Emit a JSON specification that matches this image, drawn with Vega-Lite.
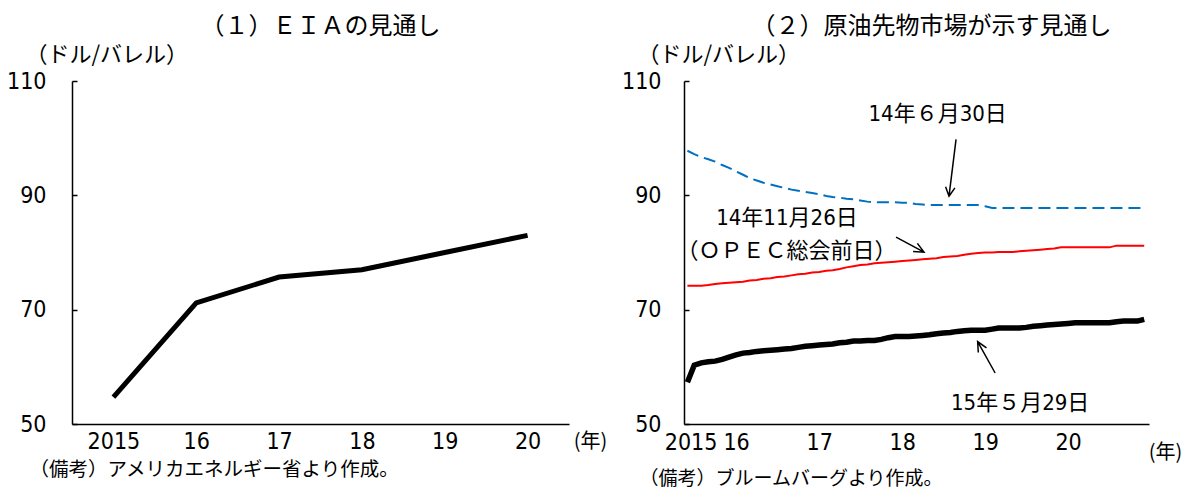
{
  "$schema": "https://vega.github.io/schema/vega-lite/v6.json",
  "background": "white",
  "padding": {"left": 6, "top": 15, "right": 0, "bottom": 0},
  "config": {
    "view": {"stroke": null},
    "font": "Noto Sans CJK JP",
    "axis": {"domainColor": "black", "domainWidth": 1.5, "labelColor": "black", "titleColor": "black", "tickColor": "black", "tickWidth": 1.5, "grid": false},
    "title": {"color": "black"},
    "concat": {"spacing": 14}
  },
  "datasets": {
    "futures": [
      {"date": "2015-06", "jun14": 97.8, "nov14": 74.2, "may15": 57.3},
      {"date": "2015-07", "jun14": 97.2, "nov14": 74.2, "may15": 60.3},
      {"date": "2015-08", "jun14": 96.7, "nov14": 74.2, "may15": 60.7},
      {"date": "2015-09", "jun14": 96.3, "nov14": 74.3, "may15": 60.9},
      {"date": "2015-10", "jun14": 95.9, "nov14": 74.5, "may15": 61.0},
      {"date": "2015-11", "jun14": 95.3, "nov14": 74.6, "may15": 61.3},
      {"date": "2015-12", "jun14": 94.8, "nov14": 74.7, "may15": 61.7},
      {"date": "2016-01", "jun14": 94.2, "nov14": 74.8, "may15": 62.1},
      {"date": "2016-02", "jun14": 93.6, "nov14": 74.9, "may15": 62.4},
      {"date": "2016-03", "jun14": 93.0, "nov14": 75.1, "may15": 62.5},
      {"date": "2016-04", "jun14": 92.6, "nov14": 75.2, "may15": 62.7},
      {"date": "2016-05", "jun14": 92.2, "nov14": 75.4, "may15": 62.8},
      {"date": "2016-06", "jun14": 91.9, "nov14": 75.5, "may15": 62.9},
      {"date": "2016-07", "jun14": 91.6, "nov14": 75.7, "may15": 63.0},
      {"date": "2016-08", "jun14": 91.3, "nov14": 75.8, "may15": 63.1},
      {"date": "2016-09", "jun14": 91.0, "nov14": 76.0, "may15": 63.2},
      {"date": "2016-10", "jun14": 90.8, "nov14": 76.2, "may15": 63.4},
      {"date": "2016-11", "jun14": 90.6, "nov14": 76.3, "may15": 63.6},
      {"date": "2016-12", "jun14": 90.4, "nov14": 76.5, "may15": 63.7},
      {"date": "2017-01", "jun14": 90.2, "nov14": 76.6, "may15": 63.8},
      {"date": "2017-02", "jun14": 89.9, "nov14": 76.8, "may15": 63.9},
      {"date": "2017-03", "jun14": 89.7, "nov14": 76.9, "may15": 64.0},
      {"date": "2017-04", "jun14": 89.6, "nov14": 77.1, "may15": 64.2},
      {"date": "2017-05", "jun14": 89.4, "nov14": 77.4, "may15": 64.3},
      {"date": "2017-06", "jun14": 89.3, "nov14": 77.6, "may15": 64.5},
      {"date": "2017-07", "jun14": 89.1, "nov14": 77.8, "may15": 64.5},
      {"date": "2017-08", "jun14": 88.9, "nov14": 77.9, "may15": 64.6},
      {"date": "2017-09", "jun14": 88.8, "nov14": 78.1, "may15": 64.6},
      {"date": "2017-10", "jun14": 88.8, "nov14": 78.2, "may15": 64.8},
      {"date": "2017-11", "jun14": 88.8, "nov14": 78.3, "may15": 65.1},
      {"date": "2017-12", "jun14": 88.8, "nov14": 78.4, "may15": 65.3},
      {"date": "2018-01", "jun14": 88.7, "nov14": 78.5, "may15": 65.3},
      {"date": "2018-02", "jun14": 88.7, "nov14": 78.6, "may15": 65.3},
      {"date": "2018-03", "jun14": 88.5, "nov14": 78.7, "may15": 65.4},
      {"date": "2018-04", "jun14": 88.4, "nov14": 78.8, "may15": 65.5},
      {"date": "2018-05", "jun14": 88.3, "nov14": 78.9, "may15": 65.6},
      {"date": "2018-06", "jun14": 88.3, "nov14": 79.0, "may15": 65.8},
      {"date": "2018-07", "jun14": 88.3, "nov14": 79.2, "may15": 65.9},
      {"date": "2018-08", "jun14": 88.3, "nov14": 79.3, "may15": 66.0},
      {"date": "2018-09", "jun14": 88.3, "nov14": 79.4, "may15": 66.2},
      {"date": "2018-10", "jun14": 88.3, "nov14": 79.6, "may15": 66.3},
      {"date": "2018-11", "jun14": 88.3, "nov14": 79.8, "may15": 66.4},
      {"date": "2018-12", "jun14": 88.3, "nov14": 79.9, "may15": 66.4},
      {"date": "2019-01", "jun14": 88.1, "nov14": 80.0, "may15": 66.4},
      {"date": "2019-02", "jun14": 87.8, "nov14": 80.0, "may15": 66.6},
      {"date": "2019-03", "jun14": 87.8, "nov14": 80.1, "may15": 66.8},
      {"date": "2019-04", "jun14": 87.8, "nov14": 80.1, "may15": 66.8},
      {"date": "2019-05", "jun14": 87.8, "nov14": 80.1, "may15": 66.8},
      {"date": "2019-06", "jun14": 87.8, "nov14": 80.2, "may15": 66.8},
      {"date": "2019-07", "jun14": 87.8, "nov14": 80.3, "may15": 66.9},
      {"date": "2019-08", "jun14": 87.8, "nov14": 80.4, "may15": 67.1},
      {"date": "2019-09", "jun14": 87.8, "nov14": 80.5, "may15": 67.2},
      {"date": "2019-10", "jun14": 87.8, "nov14": 80.6, "may15": 67.3},
      {"date": "2019-11", "jun14": 87.8, "nov14": 80.7, "may15": 67.4},
      {"date": "2019-12", "jun14": 87.8, "nov14": 80.9, "may15": 67.5},
      {"date": "2020-01", "jun14": 87.8, "nov14": 80.9, "may15": 67.6},
      {"date": "2020-02", "jun14": 87.8, "nov14": 80.9, "may15": 67.7},
      {"date": "2020-03", "jun14": 87.8, "nov14": 80.9, "may15": 67.7},
      {"date": "2020-04", "jun14": 87.8, "nov14": 80.9, "may15": 67.7},
      {"date": "2020-05", "jun14": 87.8, "nov14": 80.9, "may15": 67.7},
      {"date": "2020-06", "jun14": 87.8, "nov14": 80.9, "may15": 67.7},
      {"date": "2020-07", "jun14": 87.8, "nov14": 80.9, "may15": 67.7},
      {"date": "2020-08", "jun14": 87.8, "nov14": 81.2, "may15": 67.9},
      {"date": "2020-09", "jun14": 87.8, "nov14": 81.2, "may15": 68.0},
      {"date": "2020-10", "jun14": 87.8, "nov14": 81.2, "may15": 68.0},
      {"date": "2020-11", "jun14": 87.8, "nov14": 81.2, "may15": 68.0},
      {"date": "2020-12", "jun14": 87.8, "nov14": 81.2, "may15": 68.3}
    ]
  },
  "hconcat": [
    {
      "title": {"text": "（備考）アメリカエネルギー省より作成。", "orient": "bottom", "anchor": "start", "fontSize": 19.5, "fontWeight": "normal", "offset": 8, "dx": 23},
      "vconcat": [
        {
          "width": 497,
          "height": 343,
          "title": {"text": "（１）ＥＩＡの見通し", "frame": "group", "anchor": "middle", "fontSize": 24, "fontWeight": "normal", "offset": 4},
          "data": {"values": [
            {"year": "2015", "price": 54.7},
            {"year": "16", "price": 71.2},
            {"year": "17", "price": 75.7},
            {"year": "18", "price": 77.0},
            {"year": "19", "price": 80.0},
            {"year": "20", "price": 83.0}
          ]},
          "mark": {"type": "line", "color": "black", "strokeWidth": 5},
          "encoding": {
            "x": {
              "field": "year", "type": "ordinal", "sort": null,
              "scale": {"type": "point", "padding": 0.5},
              "axis": {"title": "(年)", "titleX": 518, "titleY": 17, "titleAngle": 0, "titleAlign": "center", "titleBaseline": "middle", "titleFontSize": 20, "titleFontWeight": "normal", "labelAngle": 0, "labelFontSize": 23, "labelFont": "Liberation Sans Narrow, DejaVu Sans Condensed, Liberation Sans", "labelPadding": 6, "ticks": false}
            },
            "y": {
              "field": "price", "type": "quantitative",
              "scale": {"domain": [50, 110], "nice": false, "zero": false},
              "axis": {"values": [50, 70, 90, 110], "title": "（ドル/バレル）", "titleAngle": 0, "titleX": -47, "titleY": -27, "titleAlign": "left", "titleBaseline": "middle", "titleFontSize": 22, "titleFontWeight": "normal", "tickSize": -5, "labelPadding": 31, "labelFontSize": 23, "labelFont": "Liberation Sans Narrow, DejaVu Sans Condensed, Liberation Sans", "labelFlush": false}
            }
          }
        }
      ]
    },
    {
      "title": {"text": "（備考）ブルームバーグより作成。", "orient": "bottom", "anchor": "start", "fontSize": 19, "fontWeight": "normal", "offset": 8, "dx": 18},
      "vconcat": [
        {
          "width": 465,
          "height": 343,
          "title": {"text": "（２）原油先物市場が示す見通し", "frame": "group", "anchor": "middle", "fontSize": 24, "fontWeight": "normal", "offset": 4, "dx": 15},
          "encoding": {
            "x": {
              "field": "date", "type": "temporal",
              "scale": {"type": "utc", "domain": [{"year": 2015, "month": 5, "date": 17, "utc": true}, {"year": 2020, "month": 12, "date": 22, "utc": true}]},
              "axis": {
                "values": [
                  {"year": 2015, "month": 6, "date": 15, "utc": true},
                  {"year": 2016, "month": 1, "date": 1, "utc": true},
                  {"year": 2017, "month": 1, "date": 1, "utc": true},
                  {"year": 2018, "month": 1, "date": 1, "utc": true},
                  {"year": 2019, "month": 1, "date": 1, "utc": true},
                  {"year": 2020, "month": 1, "date": 1, "utc": true}
                ],
                "labelExpr": "utcyear(datum.value) < 2016 ? '2015' : format(utcyear(datum.value) - 2000, 'd')",
                "title": "(年)", "titleX": 481, "titleY": 28, "titleAngle": 0, "titleAlign": "center", "titleBaseline": "middle", "titleFontSize": 20, "titleFontWeight": "normal",
                "labelFontSize": 23, "labelFont": "Liberation Sans Narrow, DejaVu Sans Condensed, Liberation Sans", "labelPadding": 7, "labelFlush": false, "labelOverlap": false, "ticks": false
              }
            },
            "y": {
              "field": "price", "type": "quantitative",
              "scale": {"domain": [50, 110], "nice": false, "zero": false},
              "axis": {"values": [50, 70, 90, 110], "title": "（ドル/バレル）", "titleAngle": 0, "titleX": -47, "titleY": -27, "titleAlign": "left", "titleBaseline": "middle", "titleFontSize": 22, "titleFontWeight": "normal", "tickSize": -5, "labelPadding": 28, "labelFontSize": 23, "labelFont": "Liberation Sans Narrow, DejaVu Sans Condensed, Liberation Sans", "labelFlush": false}
            }
          },
          "layer": [
            {
              "data": {"name": "futures"},
              "transform": [{"fold": ["jun14"], "as": ["curve", "price"]}],
              "mark": {"type": "line", "color": "#0070C0", "strokeWidth": 2, "strokeDash": [12, 6]}
            },
            {
              "data": {"name": "futures"},
              "transform": [{"fold": ["nov14"], "as": ["curve", "price"]}],
              "mark": {"type": "line", "color": "#FF0000", "strokeWidth": 2}
            },
            {
              "data": {"name": "futures"},
              "transform": [{"fold": ["may15"], "as": ["curve", "price"]}],
              "mark": {"type": "line", "color": "#000000", "strokeWidth": 5.5}
            },
            {
              "data": {"values": [
                {"arrow": "a", "seq": 0, "date": "2018-08-26", "price": 99.8},
                {"arrow": "a", "seq": 1, "date": "2018-07-26", "price": 89.85},
                {"arrow": "a", "seq": 2, "date": "2018-08-21", "price": 91.3},
                {"arrow": "a", "seq": 3, "date": "2018-07-26", "price": 89.85},
                {"arrow": "a", "seq": 4, "date": "2018-07-11", "price": 91.5},
                {"arrow": "b", "seq": 0, "date": "2017-12-05", "price": 82.68},
                {"arrow": "b", "seq": 1, "date": "2018-04-07", "price": 80.06},
                {"arrow": "b", "seq": 2, "date": "2018-03-09", "price": 81.6},
                {"arrow": "b", "seq": 3, "date": "2018-04-07", "price": 80.06},
                {"arrow": "b", "seq": 4, "date": "2018-02-18", "price": 80.17},
                {"arrow": "c", "seq": 0, "date": "2019-02-14", "price": 58.92},
                {"arrow": "c", "seq": 1, "date": "2018-11-29", "price": 64.42},
                {"arrow": "c", "seq": 2, "date": "2018-12-02", "price": 62.5},
                {"arrow": "c", "seq": 3, "date": "2018-11-29", "price": 64.42},
                {"arrow": "c", "seq": 4, "date": "2019-01-07", "price": 63.3}
              ]},
              "mark": {"type": "line", "color": "black", "strokeWidth": 1.5},
              "encoding": {
                "detail": {"field": "arrow", "type": "nominal"},
                "order": {"field": "seq", "type": "quantitative"}
              }
            },
            {
              "data": {"values": [
                {"label": "14年６月30日", "date": "2018-06-06", "price": 104.2},
                {"label": "14年11月26日", "date": "2016-08-12", "price": 86.0},
                {"label": "（ＯＰＥＣ総会前日）", "date": "2016-08-10", "price": 80.3},
                {"label": "15年５月29日", "date": "2019-06-04", "price": 53.7}
              ]},
              "mark": {"type": "text", "color": "black", "fontSize": 22, "font": "Liberation Sans Narrow, DejaVu Sans Condensed, Noto Sans CJK JP", "align": "center", "baseline": "middle"},
              "encoding": {"text": {"field": "label", "type": "nominal"}}
            }
          ]
        }
      ]
    }
  ]
}
